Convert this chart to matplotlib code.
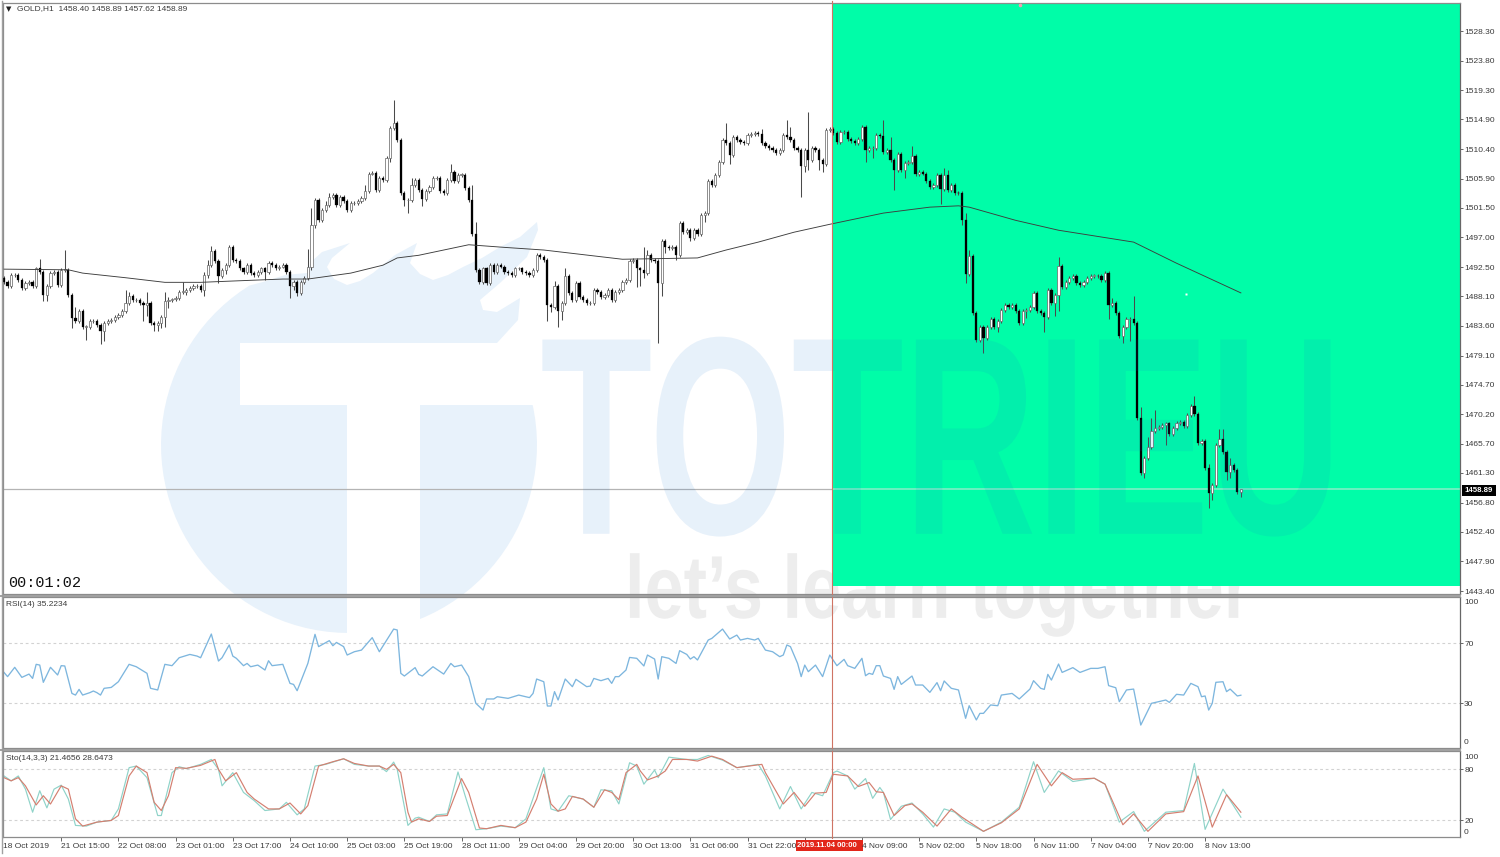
import matplotlib
matplotlib.use("Agg")
import numpy as np
import matplotlib.pyplot as plt
from matplotlib.lines import Line2D
from matplotlib.patches import Polygon, Rectangle
from matplotlib.patheffects import AbstractPathEffect
from matplotlib.transforms import Affine2D

W, H = 1500, 857
FONT = "Liberation Sans"
plt.rcParams["font.family"] = [FONT, "DejaVu Sans"]

first_open = 1490.9
closes = [
 1490.3,1489.6,1491.3,1491.3,1490.6,1489.3,1490.1,1490.3,1489.6,1492.3,
 1491.8,1488.3,1489.6,1491.6,1491.8,1489.8,1492.1,1492.1,1488.3,1484.8,
 1484.3,1485.8,1483.5,1483.5,1484.3,1484.3,1483.8,1482.8,1484.0,1484.3,
 1484.5,1485.0,1485.3,1485.8,1487.0,1488.2,1487.5,1487.5,1487.0,1486.8,
 1487.0,1484.0,1483.8,1484.0,1485.0,1487.3,1487.5,1487.6,1487.8,1488.8,
 1488.8,1489.1,1489.4,1489.6,1489.6,1489.1,1491.3,1492.9,1494.9,1493.4,
 1491.1,1492.1,1492.9,1495.6,1493.6,1493.4,1492.3,1491.8,1492.9,1491.6,
 1491.3,1491.8,1492.3,1491.8,1493.1,1492.9,1492.3,1492.6,1492.9,1491.8,
 1489.6,1490.3,1488.6,1490.3,1490.8,1492.6,1498.9,1502.7,1499.7,1501.2,
 1501.9,1503.2,1503.5,1501.9,1503.2,1502.5,1501.2,1502.2,1502.2,1502.5,
 1503.0,1504.0,1506.7,1506.8,1504.2,1506.0,1505.7,1509.0,1513.6,1514.3,
 1511.8,1503.7,1502.7,1502.7,1505.0,1505.7,1504.2,
 1502.9,1504.0,1504.7,1506.0,1506.0,1504.0,1503.7,1505.7,1507.0,1505.5,
 1506.5,1506.5,1504.5,1502.7,1497.6,1492.1,1490.3,1492.3,1490.1,1492.9,
 1491.8,1492.9,1492.6,1491.8,1491.6,1491.3,1492.3,1492.3,1491.8,1491.6,
 1491.3,1492.1,1494.4,1494.1,1493.6,1486.8,1486.5,1489.6,1485.8,1487.0,
 1491.1,1488.6,1487.5,1490.1,1488.0,1487.5,1487.0,1487.0,1489.1,1488.8,
 1488.0,1488.3,1489.1,1487.5,1488.8,1489.1,1490.3,1490.6,1493.4,1493.6,
 1492.3,1492.1,1491.6,1494.4,1493.6,1493.4,1490.1,1496.4,1495.6,1495.4,
 1495.6,1494.4,1499.2,1497.9,1498.1,1496.9,1498.1,1497.6,1500.4,1500.7,
 1505.5,1505.0,1506.5,1508.4,1511.8,1511.3,1509.5,1512.3,1511.8,1511.5,
 1511.3,1512.5,1512.7,1512.8,1512.7,1511.3,1510.8,1510.5,1510.3,1509.8,
 1510.3,1512.5,1512.3,1511.8,1510.5,1510.3,1507.8,1510.3,1508.8,1510.5,
 1510.3,1508.8,1508.2,1513.3,1513.5,1512.8,
 1511.5,1513.0,1513.0,1512.0,1511.7,1511.3,1511.9,1513.7,1510.2,1510.5,
 1510.5,1512.5,1512.4,1510.0,1510.2,1508.7,1507.2,1509.6,1507.3,1508.3,
 1508.5,1509.4,1506.6,1507.0,1506.7,1505.5,1504.7,1505.0,1506.5,1504.4,
 1506.4,1504.2,1505.0,1503.8,1503.7,1499.7,1491.5,1494.2,1485.5,1481.4,
 1483.4,1481.7,1483.5,1484.6,1483.4,1484.4,1486.0,1486.8,1486.5,1486.8,
 1485.8,1484.0,1485.8,1486.0,1486.5,1488.6,1485.9,1485.5,1485.0,1489.0,
 1487.1,1488.3,1492.7,1489.5,1490.3,1490.8,1491.1,1490.1,1489.8,1490.3,
 1490.8,1491.2,1491.2,1491.1,1490.6,1491.6,1486.8,1487.1,1485.6,1482.0,
 1483.4,1484.6,1484.7,1484.0,
 1469.6,1461.3,1463.6,1465.3,1467.6,1468.1,1468.3,1468.6,1468.8,1467.2,
 1468.1,1468.9,1469.0,1468.4,1470.1,1471.4,1470.2,1465.8,1466.2,1462.0,
 1458.2,1459.5,1465.5,1466.4,1464.5,1461.5,1462.5,1461.8,1458.4,1458.89,
]
# Wick lengths in dollars for bars whose wick is visibly longer than the usual
usual_wick = 0.3
upper_wicks = {
 10:1.5,17:3.0,20:1.7,34:2.0,35:.6,40:1.7,45:1.5,46:.5,50:1.5,56:.5,57:.7,58:.8,
 85:2.7,86:2.5,90:.7,91:.5,101:1.0,109:3.5,114:1.0,125:1.1,131:2.3,132:1.7,154:.8,
 157:1.3,179:3.5,180:.7,202:2.5,212:.8,219:2.3,220:1.5,225:5.8,246:2.4,248:2.0,
 254:1.4,263:1.1,264:.9,269:1.0,270:.9,295:1.4,310:.8,316:3.4,318:1.7,320:1.5,
 321:2.0,322:2.7,333:1.5,337:.7,340:1.6,341:1.6,343:1.0,346:0.05,
}
lower_wicks = {
 11:.9,12:1.0,19:1.5,23:2.0,27:2.0,28:1.5,39:2.5,40:1.7,42:1.0,43:1.0,44:.7,45:1.5,
 46:1.0,51:.5,56:1.0,57:.5,60:1.0,62:.7,73:1.2,80:1.8,81:.5,82:.5,86:.5,87:.5,
 108:.5,112:1.0,113:2.0,117:1.2,152:2.5,153:.8,155:2.3,156:1.3,177:2.8,178:2.5,
 179:.8,183:9.1,184:2.0,185:1.0,188:.8,192:.5,196:1.0,203:1.4,223:4.6,224:.9,
 225:1.5,228:1.5,229:1.3,241:1.7,243:1.5,249:3.0,252:1.3,262:2.3,268:.8,269:1.4,
 274:2.2,278:.8,286:1.0,291:2.3,294:2.0,295:2.5,309:2.2,313:1.0,315:3.3,319:.7,
 325:3.0,337:2.2,338:1.0,342:1.2,343:1.0,346:.8,
}

ma_bars = [0,18,22,34,45,55,64,78,85,97,106,110,116,130,140,151,173,194,202,211,221,231,246,259,267,270,283,295,316,328,346]
ma_values = [1492.2,1492.1,1491.6,1490.9,1490.2,1490.2,1490.4,1490.7,1490.7,1491.6,1492.8,1493.9,1494.3,1495.9,1495.5,1495.1,1493.7,1493.9,1495.1,1496.3,1497.8,1499.0,1500.7,1501.6,1501.8,1501.6,1499.6,1498.1,1496.3,1493.1,1488.6]

rsi_bars = [0,1,3,5,7,8,9,10,11,13,15,16,17,19,20,21,22,24,25,26,27,28,30,32,35,37,40,41,43,45,47,49,52,54,55,58,60,61,63,64,65,67,68,69,71,73,74,75,78,80,81,82,85,87,88,91,92,93,95,96,98,100,103,105,109,110,111,112,115,116,
 117,120,123,125,126,128,130,132,133,134,135,137,138,141,144,147,148,149,151,152,153,154,155,157,159,160,163,164,165,167,169,170,171,172,174,175,177,179,180,182,183,184,186,188,189,191,192,193,194,197,198,201,203,205,206,208,210,211,213,215,217,218,219,220,222,223,224,225,227,229,231,
 233,235,236,238,240,241,242,243,244,245,246,248,249,250,251,254,255,257,259,261,262,263,265,267,269,270,272,273,274,276,278,279,282,284,286,287,288,290,291,292,293,295,296,299,301,304,306,308,309,311,312,314,316,318,321,323,325,326,328,330,332,334,335,336,337,338,339,341,342,343,345,346]
rsi_values = [50.4,47.6,53.8,47.1,49.3,46.4,55.8,55.3,43.8,53.8,48.7,54.9,54.7,36.4,35.3,39.1,35.3,36.9,38,36.9,35.3,39.8,40.4,44.2,55.8,54.2,49.8,39.8,38.7,55.8,54.9,60.2,62.4,61.3,60.2,76,58,60.2,68.7,61.3,59.8,54.9,56.4,54.2,55.3,52,58.2,54.9,55.8,43.1,42.4,38.2,56.4,75.8,67.6,71.6,68.2,70.4,67.6,62,64.2,65.3,73.6,64.2,79.3,78.7,49.8,48,53.6,49.1,
 48,54.2,49.3,56.4,54.2,55.3,47.6,29.8,27.6,25.3,32.7,32.7,34.2,33.1,35.3,33.6,36.4,46,44.2,28,28,37.6,32,46,40.9,45.8,40.9,41.3,46.4,44.9,46.4,43.1,47.6,47.6,52,60.4,59.8,54.7,62,59.3,46,60.9,59.8,56.4,64.9,62.4,59.3,60.9,58.7,72,73.1,79.3,72.7,75.3,72,73.1,72,73.1,65.3,64.2,60.9,62,68.7,67.6,56.4,47.6,55.3,50.9,55.3,47.6,62,
 54.9,59.1,54.9,53.1,59.8,48.2,49.8,49.1,54.9,54.9,48,46.4,39.1,47.6,42.4,48,42,42,37.1,43.6,38.2,44.7,39.8,38.7,19.8,28.2,18.7,23.1,23.1,28.7,28.2,35.3,36.4,32.7,37.1,39.3,44.9,39.8,39.1,49.1,45.3,56,50.4,53.6,50.4,53.1,53.1,54.2,41.6,40.2,30.9,38.7,39.3,15.3,29.8,30.9,32,30.4,35.8,35.3,43.1,40.9,34.2,34.7,25.3,29.8,43.8,44.2,37.6,39.3,34.7,35.2]

sig_bars = [0,2,4,6,9,11,13,16,18,20,22,26,30,32,35,37,40,42,44,46,48,51,55,59,60,62,65,68,70,74,77,80,83,85,88,92,95,98,102,105,107,109,111,113,114,116,
 119,121,124,128,130,133,135,139,143,146,149,151,153,155,157,159,162,165,168,170,172,174,177,178,180,183,185,187,191,194,198,201,205,212,213,218,221,224,227,230,232,
 236,239,242,244,246,249,252,254,257,261,265,268,274,279,284,289,293,296,299,305,308,313,316,320,325,330,334,338,342,346]
sig_values = [70.2,66.4,70.2,60.5,37.9,48.8,39,60.5,56.6,21.5,12.9,17.6,19.6,25.4,72.2,83.9,76.1,41,31.3,48.8,82,81.2,84.7,91.7,80,66.4,76.1,52.7,44.9,33.2,33.2,40.2,27.3,37.1,83.9,89,92.5,87,83.9,83.9,80,85.9,76.1,29.3,17.6,21.5,
 18.4,24.6,25.4,69.1,52.7,10.6,9.8,13.7,11,17.6,44.9,74.2,39.1,30.5,33.2,48,44.9,35.2,55.8,52.7,44.1,76.1,85.9,78.1,67.5,72.2,78.1,91.7,91.7,89.8,95.6,91.7,82,85.9,76.1,39.1,52.7,36.3,51.9,52.7,74.2,
 72.2,59.7,64.4,53.5,52.7,25.4,37.1,39.1,29.3,12.9,33.2,23.4,6.7,16.8,33.2,85.9,60.5,76.1,68.3,69.5,62.5,14.5,27.3,6.7,27.3,30,72.2,11.7,50,29.3]

main_bars = [0,2,4,6,8,10,12,14,16,18,20,23,26,30,32,35,37,40,43,44,47,49,51,55,58,60,61,64,67,70,73,77,79,82,84,87,90,95,98,102,105,107,109,110,113,115,116,
 119,121,124,127,129,132,135,139,143,146,151,153,155,158,162,165,167,170,172,175,177,179,182,183,186,191,194,197,201,205,211,213,217,220,223,226,229,232,
 233,236,238,241,243,245,246,248,251,254,257,260,263,266,269,274,279,284,288,291,295,299,305,308,312,316,319,325,330,333,336,341,346]
main_values = [72.2,66.4,72.2,56.6,29.3,54.7,34.4,56.6,61.3,44.9,13.7,12.9,17.6,19.6,33.2,82,83.9,70.2,25.4,25.4,76.1,83.1,80.8,85.9,91.7,80,60.5,76.1,52.7,43,31.3,33.2,41,26.2,33.2,83.9,85.9,92.5,85.9,83.9,83.9,77.3,88.6,80,13.7,22.3,23.4,
 18.4,26.2,27.3,76.9,48.8,8.6,9.8,12.9,11,21.5,82,33.2,30.5,48.8,44.9,35.2,55.8,54.7,39.1,87.8,83.9,62.5,79.2,70.2,94.4,91.7,91.7,96.4,90.9,82,85.9,72.2,33.2,59.7,33.2,52.7,48.8,76.1,
 78,72.2,56.6,69.1,45.7,58.6,52.7,20.7,36.3,40.2,27.3,11.7,33.2,29.3,17.6,6.7,17.6,35.2,89,52.7,78.1,65.6,69.5,62.5,17.6,30.1,6.7,29.3,31.3,87,9,56.6,23.4]

price_ticks = [1528.30,1523.80,1519.30,1514.90,1510.40,1505.90,1501.50,1497.00,1492.50,1488.10,1483.60,1479.10,1474.70,1470.20,1465.70,1461.30,1456.80,1452.40,1447.90,1443.40]
time_tick_bars = [16,32,48,64,80,96,112,128,144,160,176,192,208,224,240,256,272,288,304,320,336]
time_labels = ["21 Oct 15:00","22 Oct 08:00","23 Oct 01:00","23 Oct 17:00","24 Oct 10:00","25 Oct 03:00","25 Oct 19:00","28 Oct 11:00","29 Oct 04:00","29 Oct 20:00","30 Oct 13:00","31 Oct 06:00","31 Oct 22:00","","4 Nov 09:00","5 Nov 02:00","5 Nov 18:00","6 Nov 11:00","7 Nov 04:00","7 Nov 20:00","8 Nov 13:00"]


class TallText(AbstractPathEffect):
    """Stretch a text upward and downward about a pixel row: the installed fonts have no condensed cut."""
    def __init__(self, row_from_top, factor):
        super().__init__()
        self.row = H - row_from_top
        self.factor = factor

    def draw_path(self, renderer, gc, tpath, affine, rgbFace=None):
        stretch = Affine2D().translate(0, -self.row).scale(1, self.factor).translate(0, self.row)
        renderer.draw_path(gc, tpath, affine + stretch, rgbFace)


# ------------------------------------------------------------------ layout
fig = plt.figure(figsize=(W / 100, H / 100), dpi=100, facecolor="white")

def px_axes(left, top, right, bottom, z=1):
    return fig.add_axes([left / W, 1 - bottom / H, (right - left) / W, (bottom - top) / H],
                        facecolor="none", zorder=z)

XMIN, XMAX = -0.28, 407.3
bg = fig.add_axes([0, 0, 1, 1], zorder=0)
bg.set_xlim(0, W); bg.set_ylim(H, 0); bg.axis("off")
PALE = "#E8F2FB"
# Logo backdrop: swooshes along the top, a round body below
logo_top = [(263,282),(285,275),(307,273),(311,262),(322,252),(350,243),(332,258),(327,267),(334,279),(347,285),
            (360,281),(373,273),(395,255),(417,243),(410,263),(420,274),(433,280),(448,275),(463,267),(482,258),
            (500,247),(520,237),(537,222),(538,230),(527,257),(500,283),(480,300),(483,310),(497,312),(520,298),
            (518,320),(497,343)]
angles = np.radians(np.linspace(-28, 238, 80))
logo_round = [(349 + 188 * np.cos(t), 445 + 188 * np.sin(t)) for t in angles]
bg.add_patch(Polygon(logo_top + logo_round, fc=PALE, ec="none"))
bg.add_patch(Rectangle((240, 343), 300, 62, fc="white", ec="none"))
bg.add_patch(Rectangle((347, 400), 73, 240, fc="white", ec="none"))

ax = px_axes(3, 3, 1460, 594)
rsi = px_axes(3, 597, 1460, 748)
sto = px_axes(3, 751, 1460, 837)
for a in (ax, rsi, sto):
    a.set_xlim(XMIN, XMAX)
    for s in a.spines.values():
        s.set_color("#8C8C8C"); s.set_linewidth(0.9)
    a.spines["right"].set_color("#666666")
    a.yaxis.tick_right()
    a.tick_params(axis="y", length=2.5, width=0.7, color="#666666", labelsize=6.0,
                  labelcolor="#3A3A3A", pad=0.5)
    a.set_xticks([])

# ------------------------------------------------------------------ main panel
ax.set_ylim(1442.95, 1532.55)
ax.set_yticks(price_ticks)
ax.set_yticklabels([f"{p:.2f}" for p in price_ticks])
ax.add_patch(Rectangle((231.9, 1444.2), XMAX - 231.9, 1532.55 - 1444.2, fc="#00FDA8", ec="none", zorder=0))

ax.hlines(closes[-1], XMIN, 231.9, color="#B4B4B4", lw=0.9, zorder=1)
ax.hlines(closes[-1], 231.9, XMAX, color="#7DEFC6", lw=1.2, zorder=1)

opens = [first_open] + closes[:-1]
for i, (o, c) in enumerate(zip(opens, closes)):
    top, bot = max(o, c), min(o, c)
    hi = top + upper_wicks.get(i, usual_wick)
    lo = bot - lower_wicks.get(i, usual_wick)
    ax.vlines(i, lo, hi, color="#4a4a4a", lw=0.75, zorder=3)
    up = c >= o
    ax.bar(i, max(top - bot, 0.05), bottom=bot, width=0.62,
           facecolor="white" if up else "black",
           edgecolor="#707070" if up else "black", linewidth=0.55 if up else 0.2, zorder=4)

ax.plot(ma_bars, ma_values, color="#3d3d3d", lw=0.65, zorder=5)
ax.plot([330.6], [1488.4], "s", color="white", ms=1.8, mec="none", zorder=6)
ax.plot([284.2], [1532.2], "o", color="#F3A0B0", ms=2.6, mec="none", zorder=6)

# ------------------------------------------------------------------ RSI panel
rsi.set_ylim(0, 100.7)
rsi.set_yticks([30, 70]); rsi.set_yticklabels(["30", "70"])
rsi.hlines([30, 70], XMIN, XMAX, color="#D2D2D2", lw=0.8, linestyles=(0, (2.5, 2.5)))
rsi.plot(rsi_bars, rsi_values, color="#7DB6DE", lw=0.95)

# ------------------------------------------------------------------ Stochastic panel
sto.set_ylim(0, 101.7)
sto.set_yticks([20, 80]); sto.set_yticklabels(["20", "80"])
sto.hlines([20, 80], XMIN, XMAX, color="#D2D2D2", lw=0.8, linestyles=(0, (2.5, 2.5)))
sto.plot(main_bars, main_values, color="#8FD3C9", lw=0.85)
sto.plot(sig_bars, sig_values, color="#D47F70", lw=0.85)
sto.set_xticks(time_tick_bars)
sto.set_xticklabels([])
sto.tick_params(axis="x", length=3, width=0.7, color="#666666", direction="out")

# ------------------------------------------------------------------ text
def ftext(x, y, s, **kw):
    kw.setdefault("fontsize", 6.0); kw.setdefault("color", "#3A3A3A")
    kw.setdefault("va", "center"); kw.setdefault("ha", "left"); kw.setdefault("zorder", 20)
    return fig.text(x / W, 1 - y / H, s, **kw)

def sx(i):
    return 4 + 3.575 * i

ftext(6, 9, "▼", fontsize=5, color="#222222", family=["DejaVu Sans"])
ftext(17, 9, "GOLD,H1  1458.40 1458.89 1457.62 1458.89")
ftext(6, 604, "RSI(14) 35.2234")
ftext(6, 759, "Sto(14,3,3) 21.4656 28.6473")
ftext(8, 583, "00:01:02", fontsize=11, color="#111111", family=["Liberation Mono"])
ftext(1464, 602.5, "100"); ftext(1464, 743, "0")
ftext(1464, 757.5, "100"); ftext(1464, 832, "0")
ftext(3, 846, "18 Oct 2019")
for b, lab in zip(time_tick_bars, time_labels):
    if lab:
        ftext(sx(b), 846, lab)

fig.add_artist(Line2D([831.5 / W] * 2, [1 - 1 / H, 1 - 838 / H], color="#CF7464", lw=0.8, zorder=15))
fig.add_artist(Rectangle((796 / W, 1 - 851 / H), 67 / W, 11 / H, transform=fig.transFigure,
                         fc="#E2261A", ec="none", zorder=18))
ftext(797.5, 845.5, "2019.11.04 00:00", color="white", fontweight="bold", fontsize=5.6, zorder=21)
fig.add_artist(Rectangle((1462 / W, 1 - 495.5 / H), 34 / W, 11 / H, transform=fig.transFigure,
                         fc="black", ec="none", zorder=18))
ftext(1464, 490, "1458.89", color="white", fontweight="bold", fontsize=5.7, zorder=21)

# frame
fig.add_artist(Line2D([1.5 / W] * 2, [1 - 1 / H, 1 - 853 / H], color="#A0A0A0", lw=1.0, zorder=15))
fig.add_artist(Line2D([0, 1460 / W], [1 - 595.5 / H] * 2, color="#999999", lw=1.3, zorder=15))
fig.add_artist(Line2D([0, 1460 / W], [1 - 749.5 / H] * 2, color="#999999", lw=1.3, zorder=15))

# watermark words: the big name shows through the green, the slogan lies under it
name = fig.text(941 / W, 1 - 452 / H, "TOTRIEU", fontweight="bold", fontsize=132,
                color="#1976D2", alpha=0.10, ha="center", va="center", zorder=12)
name.set_path_effects([TallText(436, 1.54)])
slogan = fig.text(938 / W, 1 - 595 / H, "let’s learn together", fontweight="bold", fontsize=50.6,
                  color="#EDEDED", ha="center", va="center", zorder=0.5)
slogan.set_path_effects([TallText(595, 1.27)])

fig.savefig("out.png", dpi=100)
